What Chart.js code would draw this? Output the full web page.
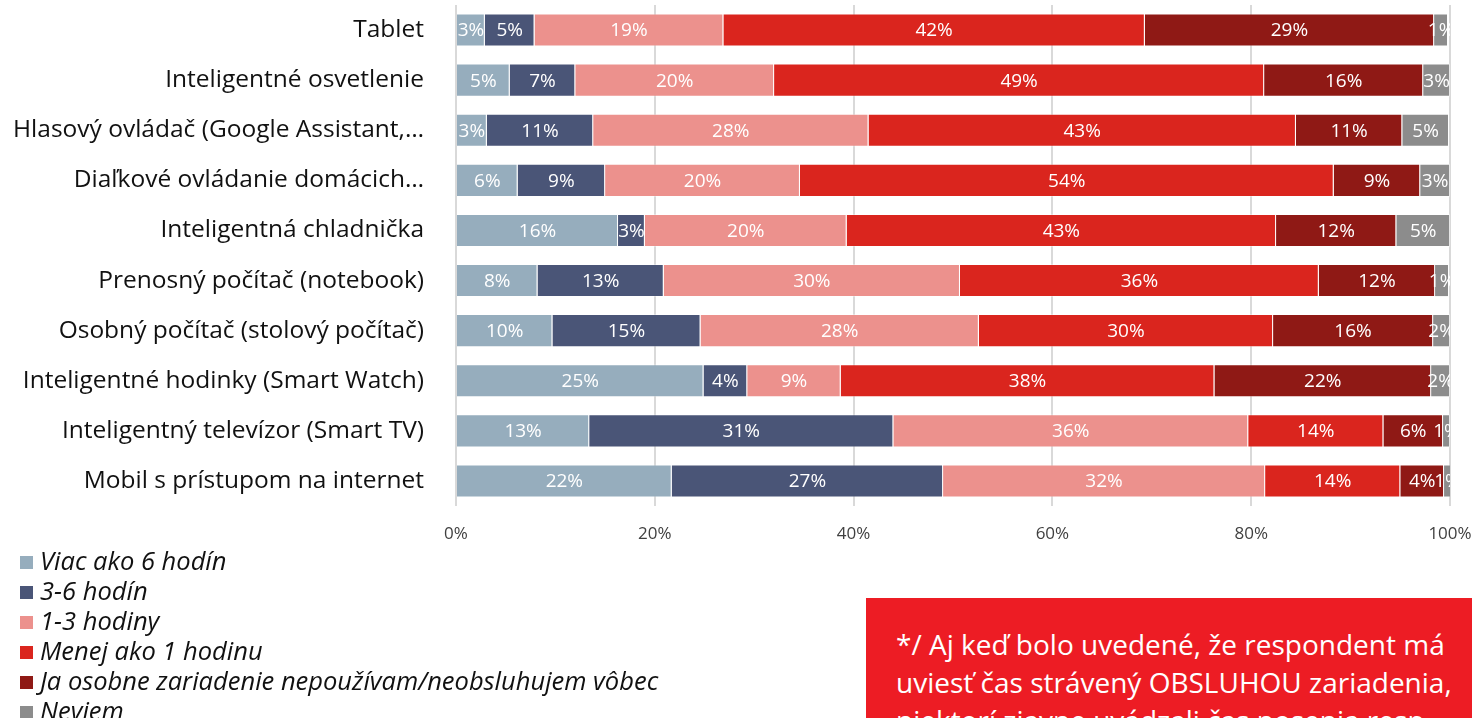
<!DOCTYPE html>
<html>
<head>
<meta charset="utf-8">
<script src="https://cdn.jsdelivr.net/npm/chart.js@4/dist/chart.umd.min.js"></script>
<style>
  html, body { margin: 0; padding: 0; background: #fff; overflow: hidden; }
  body { width: 1472px; height: 718px; position: relative; font-family: "Open Sans", sans-serif; }
  #wrap { position: absolute; left: 0; top: 0; width: 1472px; height: 550px; }
  #legenda { position: absolute; left: 20px; top: 545px; }
  .leg-item { height: 30px; line-height: 30px; font-size: 25.5px; font-style: italic; color: #111; white-space: nowrap; }
  .leg-box { display: inline-block; width: 13px; height: 13px; margin-right: 7px; vertical-align: 1px; }
  #poznamka { position: absolute; left: 866px; top: 598px; width: 606px; height: 140px; background: #ED1C24;
              color: #fff; font-size: 28px; line-height: 38px; padding: 27px 0 0 30px; box-sizing: border-box;
              overflow: hidden; white-space: nowrap; }
</style>
</head>
<body>
<div id="wrap"><canvas id="graf"></canvas></div>
<div id="legenda"></div>
<div id="poznamka">*/ Aj keď bolo uvedené, že respondent má<br>uviesť čas strávený OBSLUHOU zariadenia,<br>niektorí zjavne uvádzali čas nosenia resp.</div>

<script>
const zariadenia = [
    'Tablet',
    'Inteligentné osvetlenie',
    'Hlasový ovládač (Google Assistant,…',
    'Diaľkové ovládanie domácich…',
    'Inteligentná chladnička',
    'Prenosný počítač (notebook)',
    'Osobný počítač (stolový počítač)',
    'Inteligentné hodinky (Smart Watch)',
    'Inteligentný televízor (Smart TV)',
    'Mobil s prístupom na internet'
];

const viacAko6 = [2.9, 5.4, 3.1, 6.2, 16.3, 8.2, 9.7, 24.9, 13.4, 21.7];
const hodin3az6 = [5.0, 6.6, 10.7, 8.8, 2.7, 12.7, 14.9, 4.4, 30.6, 27.3];
const hodiny1az3 = [19.0, 20.0, 27.7, 19.6, 20.3, 29.8, 28.0, 9.4, 35.7, 32.4];
const menejAko1 = [42.4, 49.3, 43.0, 53.7, 43.2, 36.1, 29.6, 37.6, 13.6, 13.6];
const nepouzivam = [29.1, 16.0, 10.7, 8.7, 12.1, 11.7, 16.1, 21.8, 6.0, 4.4];
const neviem = [1.4, 2.7, 4.7, 3.0, 5.4, 1.4, 1.7, 1.9, 0.7, 0.7];

const osX = [0, 20, 40, 60, 80, 100];

const serie = [
    { label: 'Viac ako 6 hodín', data: viacAko6, farba: '#96ADBD' },
    { label: '3-6 hodín', data: hodin3az6, farba: '#4A5577' },
    { label: '1-3 hodiny', data: hodiny1az3, farba: '#EC918D' },
    { label: 'Menej ako 1 hodinu', data: menejAko1, farba: '#DA251E' },
    { label: 'Ja osobne zariadenie nepoužívam/neobsluhujem vôbec', data: nepouzivam, farba: '#8F1915' },
    { label: 'Neviem', data: neviem, farba: '#8C8C8C' }
];

// popisky percent v stredoch segmentov
const popiskyPlugin = {
    id: 'popisky',
    afterDatasetsDraw(chart) {
        const ctx = chart.ctx;
        const a = chart.chartArea;
        ctx.save();
        ctx.font = '19px "Open Sans", sans-serif';
        ctx.fillStyle = '#fff';
        ctx.textAlign = 'center';
        ctx.textBaseline = 'middle';
        ctx.beginPath();
        ctx.rect(a.left, a.top, a.right - a.left, a.bottom - a.top);
        ctx.clip();
        chart.data.datasets.forEach((ds, i) => {
            chart.getDatasetMeta(i).data.forEach((bar, j) => {
                const x = (bar.x + bar.base) / 2;
                ctx.fillText(Math.round(ds.data[j]) + '%', x, bar.y + 1);
            });
        });
        ctx.restore();
    }
};

const chart = new Chart(document.getElementById('graf'), {
    type: 'bar',
    data: {
        labels: zariadenia,
        datasets: serie.map(s => ({
            label: s.label,
            data: s.data,
            backgroundColor: s.farba,
            borderColor: 'rgba(255,255,255,0.35)',
            borderWidth: 1,
            barPercentage: 0.66,
            categoryPercentage: 1
        }))
    },
    options: {
        indexAxis: 'y',
        responsive: true,
        maintainAspectRatio: false,
        animation: false,
        layout: { padding: 0 },
        plugins: {
            legend: { display: false },
            tooltip: { enabled: false }
        },
        scales: {
            x: {
                stacked: true,
                min: 0,
                max: 100,
                afterBuildTicks(scale) { scale.ticks = osX.map(v => ({ value: v })); },
                ticks: {
                    callback: v => v + '%',
                    font: { size: 17, family: 'Open Sans' },
                    color: '#404040',
                    padding: 18,
                    maxRotation: 0
                },
                grid: { color: '#D9D9D9', lineWidth: 2, drawTicks: false },
                border: { display: false },
                afterFit(scale) {
                    scale.height = 44;
                    scale.paddingLeft = 0;
                    scale.paddingRight = 22;
                }
            },
            y: {
                stacked: true,
                ticks: {
                    font: { size: 24.5, family: 'Open Sans' },
                    color: '#111',
                    padding: 32,
                    autoSkip: false
                },
                grid: { display: false, drawTicks: false },
                border: { display: false },
                afterFit(scale) {
                    scale.width = 456;
                    scale.paddingTop = 5;
                    scale.paddingBottom = 0;
                }
            }
        }
    },
    plugins: [popiskyPlugin]
});

// legenda pod grafom
const leg = document.getElementById('legenda');
chart.data.datasets.forEach(ds => {
    const riadok = document.createElement('div');
    riadok.className = 'leg-item';
    riadok.innerHTML = '<span class="leg-box" style="background:' + ds.backgroundColor + '"></span>' + ds.label;
    leg.appendChild(riadok);
});
</script>
</body>
</html>
